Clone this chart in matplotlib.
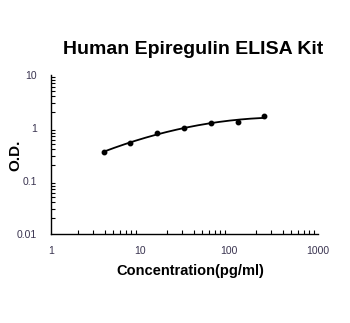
import numpy as np
import matplotlib
matplotlib.use("Agg")
import matplotlib.pyplot as plt
from matplotlib.ticker import LogLocator, NullFormatter

conc = [3.9, 7.8, 15.6, 31.25, 62.5, 125, 250]
od = [0.35, 0.53, 0.80, 1.02, 1.22, 1.30, 1.65]
xticks = [1, 10, 100, 1000]
xticklabels = ["1", "10", "100", "1000"]
yticks = [0.01, 0.1, 1, 10]
yticklabels = ["0.01", "0.1", "1", "10"]

plt.rcParams['font.family'] = ['Liberation Sans', 'DejaVu Sans']
fig = plt.figure(figsize=(3.5, 3.23), dpi=100)
ax = fig.add_axes([51/350, 1-234/323, (318-51)/350, (234-75)/323])

lx = np.log10(conc)
ly = np.log10(od)
coef = np.polyfit(lx, ly, 2)
xs = np.linspace(lx[0], lx[-1], 200)
ax.plot(10**xs, 10**np.polyval(coef, xs), color='black', lw=1.3)
ax.plot(conc, od, 'o', color='black', ms=3.2)

ax.set_xscale('log')
ax.set_yscale('log')
ax.set_xlim(1, 1000)
ax.set_ylim(0.01, 10)
ax.set_xticks(xticks)
ax.set_xticklabels(xticklabels)
ax.set_yticks(yticks)
ax.set_yticklabels(yticklabels)
ax.xaxis.set_minor_locator(LogLocator(base=10, subs=np.arange(2, 10)))
ax.yaxis.set_minor_locator(LogLocator(base=10, subs=np.arange(2, 10)))
ax.xaxis.set_minor_formatter(NullFormatter())
ax.yaxis.set_minor_formatter(NullFormatter())
for s in ['top', 'right']:
    ax.spines[s].set_visible(False)
for s in ['left', 'bottom']:
    ax.spines[s].set_linewidth(1.0)
ax.tick_params(which='both', direction='in', length=3, width=0.8, labelsize=7.5,
               labelcolor='#3a3450')
ax.tick_params(axis='x', which='major', length=0, pad=9)
ax.tick_params(axis='y', which='major', length=0, pad=10)

fig.text(193.5/350, 1-49/323, "Human Epiregulin ELISA Kit", ha='center', va='center',
         fontsize=14, fontweight='bold')
fig.text(190/350, 1-271/323, "Concentration(pg/ml)", ha='center', va='center',
         fontsize=10.5, fontweight='bold')
fig.text(15/350, 1-155/323, "O.D.", ha='center', va='center', rotation=90,
         fontsize=11, fontweight='bold')

fig.savefig("out.png", dpi=100)
